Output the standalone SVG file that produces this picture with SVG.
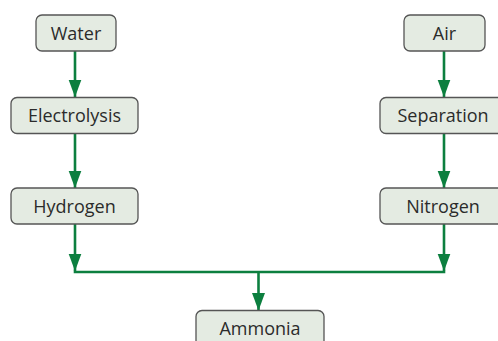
<svg xmlns="http://www.w3.org/2000/svg" width="498" height="341" viewBox="0 0 498 341">
<defs>
<style>
.box{fill:#e4ebe2;stroke:#555;stroke-width:1.3}
.lbl{font-family:"Open Sans","Liberation Sans",sans-serif;font-size:18px;fill:#2b2b2b;text-anchor:middle}
.con{stroke:#0c7f3f;stroke-width:2.6;fill:none}
</style>
<marker id="ah" markerUnits="userSpaceOnUse" markerWidth="18" markerHeight="14" viewBox="0 0 18 14" refX="17.5" refY="7" orient="auto">
<path d="M0,0.5 L17.5,7 L0,13.5 Z" fill="#0c7f3f"/>
</marker>
</defs>
<rect width="498" height="341" fill="#fff"/>
<g id="connectors">
<line class="con" x1="75" y1="51" x2="75" y2="97" marker-end="url(#ah)"/>
<line class="con" x1="75" y1="134" x2="75" y2="188" marker-end="url(#ah)"/>
<line class="con" x1="444" y1="51" x2="444" y2="97" marker-end="url(#ah)"/>
<line class="con" x1="444" y1="134" x2="444" y2="188" marker-end="url(#ah)"/>
<line class="con" x1="75" y1="224" x2="75" y2="271" marker-end="url(#ah)"/>
<line class="con" x1="444" y1="224" x2="444" y2="271" marker-end="url(#ah)"/>
<line class="con" x1="73.7" y1="272" x2="445.3" y2="272"/>
<line class="con" x1="258.5" y1="272" x2="258.5" y2="310.5" marker-end="url(#ah)"/>
</g>
<g id="water"><rect class="box" x="36" y="15" width="80" height="36" rx="6"/><text class="lbl" x="76" y="39.5">Water</text></g>
<g id="electrolysis"><rect class="box" x="11" y="97.5" width="127" height="36" rx="6"/><text class="lbl" x="74.5" y="122">Electrolysis</text></g>
<g id="hydrogen"><rect class="box" x="11" y="188" width="127" height="36" rx="6"/><text class="lbl" x="74.5" y="212.5">Hydrogen</text></g>
<g id="air"><rect class="box" x="404" y="15" width="81" height="36" rx="6"/><text class="lbl" x="444.5" y="39.5">Air</text></g>
<g id="separation"><rect class="box" x="380" y="97.5" width="126" height="36" rx="6"/><text class="lbl" x="443" y="122">Separation</text></g>
<g id="nitrogen"><rect class="box" x="380" y="188" width="126" height="36" rx="6"/><text class="lbl" x="443" y="212.5">Nitrogen</text></g>
<g id="ammonia"><rect class="box" x="196" y="310.5" width="128" height="36" rx="6"/><text class="lbl" x="260" y="335">Ammonia</text></g>
</svg>
